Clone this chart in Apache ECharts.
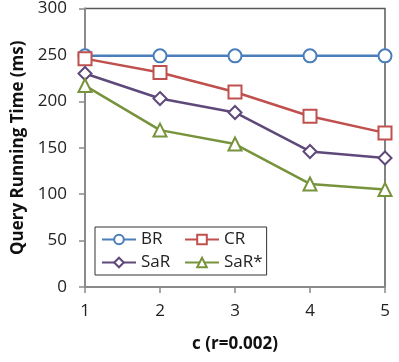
<!DOCTYPE html>
<html>
<head>
<meta charset="utf-8">
<script src="https://cdn.jsdelivr.net/npm/echarts@6/dist/echarts.min.js"></script>
<style>
  html, body { margin: 0; padding: 0; background: #fff; }
  #chart { width: 399px; height: 362px; }
</style>
</head>
<body>
<div id="chart"></div>
<script>
const categories = ['1', '2', '3', '4', '5']
const br = [249, 249, 249, 249, 249]
const cr = [246, 231, 210, 184, 166]
const sar = [230, 203, 188, 146, 139]
const sarStar = [217, 169, 154, 111, 105]

const font = 'Open Sans'

const chart = echarts.init(document.getElementById('chart'))

// helper for hollow marker line series
const makeSeries = (name, data, color, symbol) => ({
  name: name,
  type: 'line',
  data: data,
  symbol: symbol,
  symbolSize: 13,
  showAllSymbol: true,
  lineStyle: { color: color, width: 2.5 },
  itemStyle: { color: '#fff', borderColor: color, borderWidth: 2 },
  emphasis: { disabled: true },
  animation: false
})

const option = {
  backgroundColor: '#fff',
  grid: {
    left: 85, right: 14, top: 8, bottom: 75,
    show: true,
    borderColor: '#595959',
    borderWidth: 1.5,
    containLabel: false
  },
  legend: {
    left: 95, top: 227,
    width: 166,
    orient: 'horizontal',
    padding: [4, 4, 4, 6],
    itemGap: 6,
    itemWidth: 34,
    itemHeight: 12,
    borderColor: '#333',
    borderWidth: 1,
    backgroundColor: '#fff',
    textStyle: { fontFamily: font, fontSize: 17, color: '#222', width: 37, lineHeight: 16 },
    data: ['BR', 'CR', 'SaR', 'SaR*']
  },
  xAxis: {
    type: 'category',
    data: categories,
    boundaryGap: false,
    name: 'c (r=0.002)',
    nameLocation: 'middle',
    nameGap: 49,
    nameTextStyle: { fontFamily: font, fontSize: 17, fontWeight: 'bold', color: '#111' },
    axisLine: { lineStyle: { color: '#8a8a8a', width: 2 } },
    axisTick: { show: true, inside: false, length: 6, alignWithLabel: true, lineStyle: { color: '#8a8a8a', width: 1.5 } },
    axisLabel: { fontFamily: font, fontSize: 17, color: '#222', margin: 16 },
    splitLine: { show: false }
  },
  yAxis: {
    type: 'value',
    min: 0, max: 300, interval: 50,
    name: 'Query Running Time (ms)',
    nameLocation: 'middle',
    nameGap: 58,
    nameTextStyle: { fontFamily: font, fontSize: 17, fontWeight: 'bold', color: '#111' },
    axisLine: { show: true, lineStyle: { color: '#8a8a8a', width: 2 } },
    axisTick: { show: true, inside: false, length: 6, lineStyle: { color: '#8a8a8a', width: 1.5 } },
    axisLabel: { fontFamily: font, fontSize: 17, color: '#222', margin: 18 },
    splitLine: { show: false }
  },
  series: [
    makeSeries('BR', br, '#4a7ebb', 'circle'),
    makeSeries('CR', cr, '#c0504d', 'rect'),
    makeSeries('SaR', sar, '#5f497a', 'diamond'),
    makeSeries('SaR*', sarStar, '#77933c', 'triangle')
  ]
}

chart.setOption(option)
</script>
</body>
</html>
